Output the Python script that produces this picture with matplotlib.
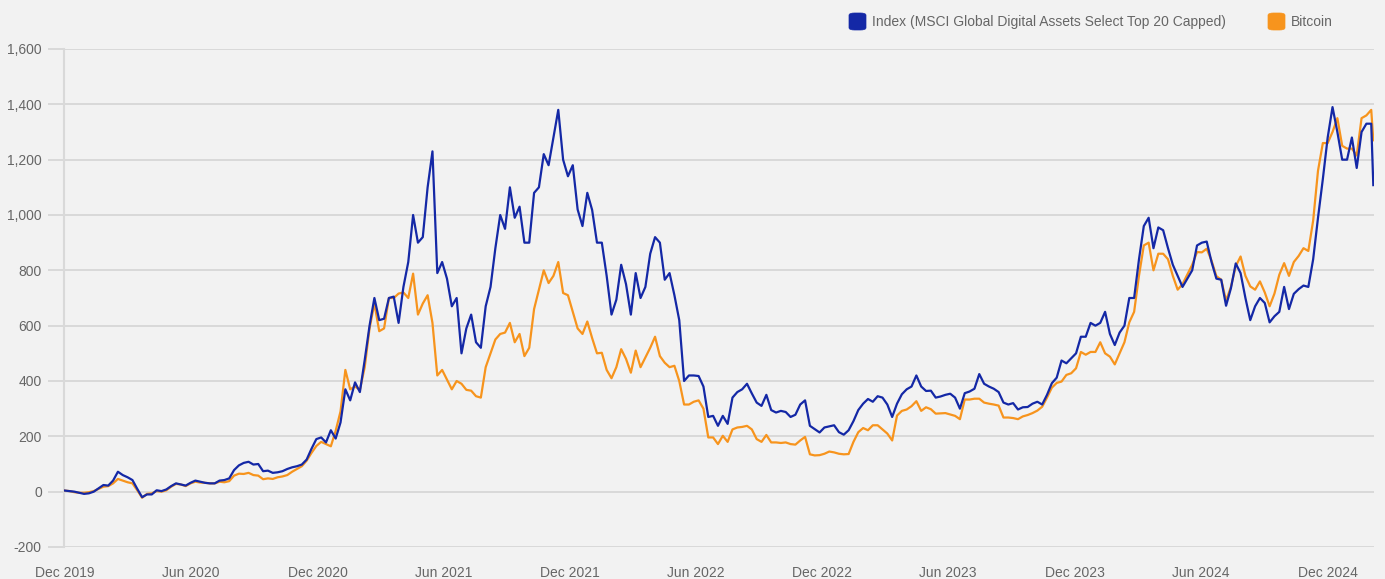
import matplotlib
matplotlib.use("Agg")
import matplotlib.pyplot as plt
import matplotlib.dates as mdates
from matplotlib.patches import FancyBboxPatch
import pandas as pd

plt.rcParams['font.family'] = ['Liberation Sans', 'DejaVu Sans']

# weekly observations from 2019-12-01, plus the final observation
start_date = "2019-12-01"
n_weeks = 271
final_date = "2025-02-05"

index_values = [
    4, 2, 0, -4, -8, -6, 0, 12, 24, 22, 40, 72, 60, 52, 42, 10, -20, -10, -10, 5,
    2, 8, 20, 30, 26, 22, 32, 40, 36, 32, 30, 30, 40, 42, 48, 78, 95, 104, 108, 98,
    100, 74, 76, 68, 70, 74, 82, 88, 92, 98, 116, 155, 190, 196, 178, 222, 192, 250, 370, 330,
    395, 360, 476, 600, 700, 620, 625, 700, 705, 610, 740, 830, 1000, 900, 920, 1100, 1230, 790, 830, 770,
    670, 700, 500, 590, 640, 540, 520, 670, 740, 880, 1000, 950, 1100, 990, 1030, 900, 900, 1080, 1100, 1220,
    1180, 1280, 1380, 1200, 1140, 1180, 1020, 960, 1080, 1018, 900, 900, 780, 640, 694, 820, 750, 640, 790, 700,
    740, 860, 920, 900, 766, 790, 710, 620, 400, 420, 420, 418, 380, 270, 274, 238, 274, 245, 340, 360,
    370, 390, 355, 322, 310, 350, 295, 286, 292, 288, 270, 278, 315, 330, 238, 226, 214, 232, 236, 240,
    215, 206, 222, 255, 295, 318, 335, 325, 345, 340, 315, 270, 318, 352, 370, 380, 420, 380, 364, 365,
    340, 344, 350, 354, 340, 300, 356, 362, 372, 425, 390, 380, 372, 360, 322, 315, 320, 297, 305, 306,
    318, 325, 315, 350, 392, 412, 474, 464, 482, 500, 560, 560, 610, 600, 610, 650, 570, 530, 575, 600,
    700, 700, 839, 960, 990, 880, 955, 945, 880, 820, 780, 740, 770, 800, 890, 900, 904, 830, 770, 766,
    672, 735, 825, 790, 700, 620, 670, 700, 682, 612, 634, 650, 740, 660, 715, 732, 745, 740, 840, 990,
    1130, 1280, 1390, 1300, 1200, 1200, 1280, 1170, 1300, 1330, 1330, 1108,
]

bitcoin_values = [
    4, 2, -2, -4, -4, -2, 2, 10, 18, 20, 30, 46, 40, 34, 30, 5, -22, -8, -6, 2,
    0, 5, 18, 28, 26, 20, 30, 36, 33, 32, 30, 30, 36, 34, 38, 58, 65, 64, 68, 60,
    58, 45, 48, 46, 52, 55, 60, 72, 82, 92, 112, 140, 165, 180, 172, 164, 220, 290, 440, 370,
    380, 368, 450, 590, 680, 580, 590, 700, 700, 716, 720, 700, 788, 640, 680, 710, 610, 420, 440, 405,
    370, 400, 390, 368, 365, 345, 340, 450, 500, 550, 570, 575, 610, 540, 570, 490, 520, 660, 730, 800,
    754, 780, 830, 718, 710, 650, 590, 570, 615, 555, 500, 502, 440, 410, 450, 515, 480, 430, 510, 450,
    485, 520, 560, 490, 466, 450, 455, 400, 315, 315, 325, 330, 300, 196, 196, 172, 202, 180, 225, 232,
    234, 238, 225, 190, 180, 205, 178, 178, 176, 178, 172, 170, 185, 198, 135, 131, 132, 137, 145, 142,
    137, 135, 136, 180, 215, 230, 222, 240, 240, 225, 210, 185, 275, 292, 297, 309, 327, 292, 305, 298,
    282, 283, 284, 279, 274, 262, 333, 333, 336, 336, 322, 318, 315, 311, 268, 268, 266, 262, 272, 277,
    284, 293, 307, 340, 376, 393, 398, 422, 428, 446, 505, 495, 505, 505, 540, 500, 488, 460, 500, 540,
    612, 650, 780, 890, 900, 800, 860, 860, 840, 780, 730, 750, 785, 820, 866, 865, 878, 835, 779, 766,
    690, 740, 815, 850, 780, 742, 730, 760, 720, 670, 716, 784, 826, 780, 830, 852, 880, 870, 980, 1160,
    1260, 1260, 1300, 1350, 1250, 1240, 1240, 1215, 1350, 1360, 1380, 1270,
]

y_ticks = [-200, 0, 200, 400, 600, 800, 1000, 1200, 1400, 1600]
series_names = ["Index (MSCI Global Digital Assets Select Top 20 Capped)", "Bitcoin"]
series_colors = ["#1428a6", "#f7941d"]

dates = list(pd.date_range(start_date, periods=n_weeks, freq="7D")) + [pd.Timestamp(final_date)]

BG = "#f2f2f2"
GRID = "#d9d9d9"
TXT = "#666666"
FS = 10

fig = plt.figure(figsize=(13.85, 5.79), dpi=100, facecolor=BG)
ax = fig.add_axes([64 / 1385, 1 - 547 / 579, (1374 - 64) / 1385, (547 - 49) / 579])
ax.set_facecolor(BG)

ax.plot(dates, bitcoin_values, color=series_colors[1], lw=1.6, zorder=3, solid_joinstyle="round")
ax.plot(dates, index_values, color=series_colors[0], lw=1.6, zorder=4, solid_joinstyle="round")

ax.set_ylim(-200, 1600)
ax.set_xlim(pd.Timestamp("2019-11-30"), pd.Timestamp("2025-02-06"))
ax.set_yticks(y_ticks)
ax.set_yticklabels([f"{v:,}" for v in y_ticks])
ax.grid(axis="y", color=GRID, lw=1.4, zorder=0)
ax.grid(axis="x", visible=False)
for s in ["top", "right", "bottom"]:
    ax.spines[s].set_visible(False)
ax.spines["left"].set_color(GRID)
ax.spines["left"].set_linewidth(1.5)

ax.tick_params(axis="y", length=11.5, width=1.4, color=GRID, pad=4.5, labelsize=FS, labelcolor=TXT)
ax.xaxis.set_major_locator(mdates.MonthLocator(bymonth=[6, 12], bymonthday=1))
ax.xaxis.set_major_formatter(mdates.DateFormatter("%b %Y"))
ax.tick_params(axis="x", length=0, pad=14, labelsize=FS, labelcolor=TXT)

# legend
def legend_item(x_px, color, label):
    w = 17 / 1385
    h = 17 / 579
    y0 = 1 - 30 / 579
    p = FancyBboxPatch((x_px / 1385, y0), w, h, boxstyle="round,pad=0,rounding_size=0.004",
                       transform=fig.transFigure, facecolor=color, edgecolor=color, lw=0.5)
    fig.patches.append(p)
    fig.text((x_px + 23) / 1385, 1 - 22 / 579, label, color=TXT, fontsize=FS, va="center", ha="left")

legend_item(849, series_colors[0], series_names[0])
legend_item(1268, series_colors[1], series_names[1])

fig.savefig("out.png", dpi=100, facecolor=BG)
